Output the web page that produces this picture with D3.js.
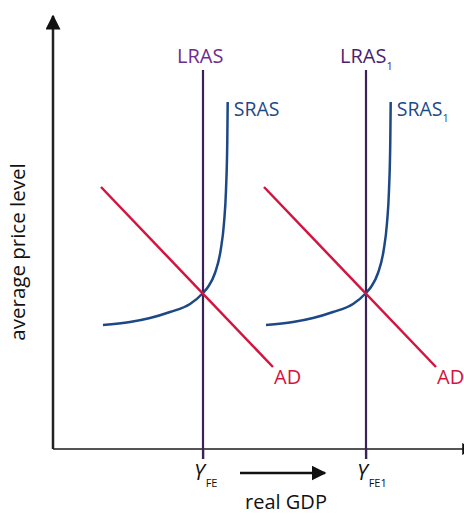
<!DOCTYPE html>
<html><head><meta charset="utf-8">
<script src="https://cdn.jsdelivr.net/npm/d3@7"></script>
<style>body{margin:0;background:#fff}svg{display:block}text{font-family:"Open Sans","Noto Sans",sans-serif}</style>
</head><body><div id="chart"></div>
<script>
// Data (x: real GDP units, y: price level units)
const fullEmployment = [{key:"FE", x:150, lras:"LRAS", sras:"SRAS", ad:"AD", sub:""},
                        {key:"FE1", x:313, lras:"LRAS", sras:"SRAS", ad:"AD", sub:"1"}];
const srasX = [50, 77, 97, 117, 137, 150, 155, 162, 167.7, 171, 173, 174.3, 174.7];
const srasY = [124, 127, 131, 137, 145, 156, 162, 176, 199, 226, 259, 309, 347];
const adX = [48, 220];
const adY = [262, 82];
const shift = 163;
const lrasTop = 379;

const W = 464, H = 515;
const svg = d3.select("#chart").append("svg").attr("width", W).attr("height", H);
const x = d3.scaleLinear().domain([0, 410]).range([53, 463]);
const y = d3.scaleLinear().domain([0, 437]).range([449, 12]);

const defs = svg.append("defs");
defs.append("marker").attr("id","ah").attr("viewBox","0 0 10 10").attr("refX",9).attr("refY",5)
  .attr("markerWidth",6).attr("markerHeight",6).attr("orient","auto-start-reverse")
  .attr("markerUnits","strokeWidth")
  .append("path").attr("d","M0,0 L10,5 L0,10 z").attr("fill","#111");

// Axes
const xAxis = d3.axisBottom(x).tickValues(fullEmployment.map(d=>d.x)).tickSizeInner(10).tickSizeOuter(0).tickFormat("");
const gx = svg.append("g").attr("transform",`translate(0,${y(0)})`).call(xAxis);
gx.select(".domain").attr("stroke","#555").attr("stroke-width",2).attr("marker-end","url(#ah)")
  .attr("d", `M${x(0)},0H${x(420)}`);
gx.selectAll(".tick line").attr("stroke","#444").attr("stroke-width",1.5);

const yAxis = d3.axisLeft(y).tickValues([]).tickSizeOuter(0);
const gy = svg.append("g").attr("transform",`translate(${x(0)},0)`).call(yAxis);
gy.select(".domain").attr("stroke","#222").attr("stroke-width",2.5)
  .attr("d", `M0,${y(0)}V${y(433)}`).attr("marker-end","url(#ah)");

// LRAS lines
fullEmployment.forEach((d,i)=>{
  svg.append("line").attr("x1",x(d.x)).attr("x2",x(d.x)).attr("y1",y(lrasTop)).attr("y2",y(0)+10)
    .attr("stroke","#3b2256").attr("stroke-width",2.2);
  const t = svg.append("text").attr("x",x(d.x)-26).attr("y",63).attr("font-size",20)
    .attr("fill", i===0 ? "#6e2c91" : "#4b1f6e").text(d.lras);
  if (d.sub) t.append("tspan").attr("dy",7).attr("font-size",11).text(d.sub);
});

// SRAS curves
const sras = srasX.map((v,i)=>[v, srasY[i]]);
const line = d3.line().x(d=>x(d[0])).y(d=>y(d[1])).curve(d3.curveMonotoneX);
fullEmployment.forEach((d,i)=>{
  const off = i*shift;
  svg.append("path").attr("d", line(sras.map(p=>[p[0]+off,p[1]])))
    .attr("fill","none").attr("stroke","#1c4886").attr("stroke-width",2.5);
  const t = svg.append("text").attr("x",x(srasX[srasX.length-1]+off)+6).attr("y",116).attr("font-size",19.5)
    .attr("fill","#1d4a87").text(d.sras);
  if (d.sub) t.append("tspan").attr("dy",6).attr("font-size",11).text(d.sub);
});

// AD curves
fullEmployment.forEach((d,i)=>{
  const off = i*shift;
  svg.append("line").attr("x1",x(adX[0]+off)).attr("y1",y(adY[0])).attr("x2",x(adX[1]+off)).attr("y2",y(adY[1]))
    .attr("stroke","#d3143f").attr("stroke-width",2.5);
  svg.append("text").attr("x",x(adX[1]+off)+1).attr("y",384).attr("font-size",20)
    .attr("fill","#d3143f").text(d.ad);
});

// Y_FE labels
fullEmployment.forEach(d=>{
  const t = svg.append("text").attr("x",x(d.x)-9).attr("y",480).attr("font-size",21).attr("fill","#111");
  t.append("tspan").attr("font-style","italic").text("Y");
  t.append("tspan").attr("dy",7).attr("dx",1).attr("font-size",11).text(d.key);
});

// shift arrow
svg.append("line").attr("x1",240).attr("x2",325).attr("y1",473).attr("y2",473)
  .attr("stroke","#111").attr("stroke-width",2.5).attr("marker-end","url(#ah)");

// axis titles
svg.append("text").attr("x",286).attr("y",509).attr("text-anchor","middle").attr("font-size",20).attr("fill","#111").text("real GDP");
svg.append("text").attr("transform","translate(25,252) rotate(-90)").attr("text-anchor","middle")
  .attr("font-size",20.5).attr("fill","#111").text("average price level");
</script></body></html>
